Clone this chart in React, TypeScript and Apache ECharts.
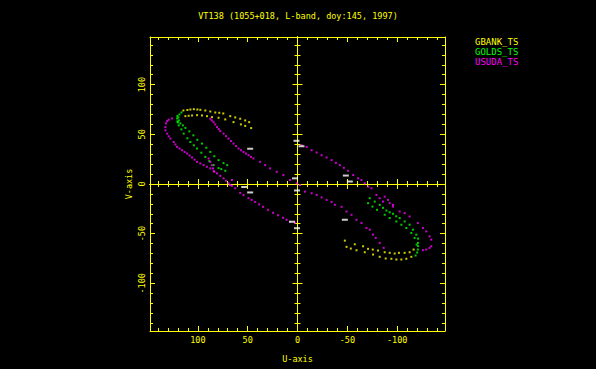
import React, { useEffect, useRef } from "react";
import * as echarts from "echarts";

const TITLE = "VT138 (1055+018, L-band, doy:145, 1997)";
const SERIES_NAMES = ["GBANK_TS", "GOLDS_TS", "USUDA_TS"];
const AXIS_MIN = -148;
const AXIS_MAX = 148;
const MAJOR_TICKS = [-100, -50, 0, 50, 100];
const MINOR_TICKS = [-140, -130, -120, -110, -90, -80, -70, -60, -40, -30, -20, -10, 10, 20, 30, 40, 60, 70, 80, 90, 110, 120, 130, 140];

// GBANK_TS (u, v)
const gbankUpperOuter = [[114.5, 74], [110.5, 74.5], [107.5, 75], [104, 75.3], [100.5, 75], [97.5, 74.7], [92.5, 74], [87.5, 73], [82.5, 72], [78.5, 71.7], [74.5, 71], [67.5, 68.3], [62.5, 67], [57.5, 65.7], [52.5, 64], [48.5, 62.3], [46.5, 56.3]];
const gbankUpperInner = [[112.5, 68.3], [109.2, 68.7], [105.8, 69], [100.8, 69.3], [95.8, 69], [90.8, 68.3], [85.8, 67.3], [79.2, 66.7], [72.5, 65], [64.2, 62.3], [56.8, 60], [52.5, 58.5]];
const gbankLowerOuter = [[-49.2, -63.3], [-53.5, -65], [-59.2, -66.7], [-67.5, -68.7], [-75.8, -71], [-82.5, -73.3], [-88.5, -75], [-94.2, -75.3], [-99.2, -76], [-104.2, -76], [-109.2, -75.3], [-114.2, -73.3]];
const gbankLowerInner = [[-47.5, -57], [-57.5, -60.7], [-65.8, -62.7], [-70.8, -65.3], [-75.5, -66], [-80.8, -67], [-87.5, -68.7], [-92.5, -69.3], [-97.5, -70], [-101.8, -69.3], [-107.5, -69.3], [-112.5, -68.7], [-116.5, -66]];

// GOLDS_TS (u, v)
const goldsUpperA = [[116.5, 72], [118.5, 70], [120.5, 68.5], [119.5, 67], [120.8, 66], [119, 64], [120.5, 63], [117.5, 61], [115, 59], [112.5, 56.5], [108.5, 53], [104.5, 49], [100.5, 44.5], [95.8, 40.7], [91.5, 36.5], [87.5, 32.3], [83.5, 28], [79.2, 24], [74.2, 21], [70.5, 19]];
const goldsUpperB = [[120, 62], [119.2, 59], [116.5, 55], [114.2, 50.7], [110.5, 46], [107.5, 42.3], [104, 39], [100.8, 35.7], [96.5, 31.5], [92.5, 27.3], [88.5, 23], [84.2, 19], [79.2, 16], [76.5, 15], [72.5, 13.3]];
const goldsLowerA = [[-72.5, -14.3], [-77.5, -17.7], [-82.5, -21], [-85.8, -24], [-89.2, -26.7], [-92.5, -28.5], [-95.8, -30], [-99, -32.5], [-102.5, -34.3], [-107.5, -37.7], [-112.5, -41], [-115.8, -46], [-119.2, -51], [-121, -55], [-120.8, -59.3], [-121, -62.5], [-120.8, -66], [-120, -69], [-118.5, -72]];
const goldsLowerB = [[-70.8, -19.3], [-75.2, -22.7], [-79.8, -26], [-87.5, -31], [-92.5, -34.3], [-99.2, -37.7], [-104.2, -41], [-109.2, -44.3], [-114.2, -49.3], [-117.5, -54.3], [-119.5, -61]];

// USUDA_TS (u, v)
const usudaHookUpper = [[125.8, 66], [129.2, 64.7], [130.8, 63.3], [132, 61], [132.5, 57.3], [132.5, 54], [130.8, 50.7], [129.2, 48], [127.5, 45.7], [124.2, 42.3], [122.5, 39.8], [120.8, 37.3], [118.3, 35.7], [115.8, 34], [113.3, 32.3], [110.8, 30.7], [108.3, 28.7], [105.8, 26.7], [103.3, 24.5], [100.8, 22.3], [97.5, 20.7], [94.2, 19], [91, 17.3], [87.5, 15.7], [84, 13], [80.8, 10.7], [77.5, 8.2], [74.2, 5.7], [71.7, 3.2], [69.2, 0.7], [65.8, -1.8], [62.5, -4.3], [57.5, -9], [54.2, -11], [49.2, -14.3], [46, -16], [42.5, -18], [38.5, -20.5], [34.5, -23], [29.5, -26], [24.5, -29], [19.5, -31.5], [14.5, -34], [11, -36], [7.5, -38], [2.5, -39]];
const usudaInnerUpper = [[87.5, 65.7], [86, 64], [84.2, 62.3], [82.5, 60], [80.8, 57.3], [79, 55.3], [77.5, 53.3], [74.2, 50.7], [71.7, 48.2], [69.2, 45.7], [66.7, 43.2], [64.2, 40.7], [61.7, 38.2], [59.2, 35.7], [56.7, 34], [54.2, 32.3], [51.7, 30.7], [49.2, 29], [46.7, 27.3], [44.2, 25.7], [37.5, 22.3], [32.5, 19], [27.5, 15.7], [20.8, 12.3], [14.2, 9], [7.5, 4], [0.8, 0.7]];
const usudaShortUpper = [[89.2, 25.7], [87.5, 22.3], [85.8, 19], [84.8, 15.7], [83.5, 12.3], [65.8, 4], [67.5, -1]];
const usudaInnerLower = [[-2.5, -1], [-7.5, -7.7], [-14.2, -9.3], [-19.2, -11], [-24.2, -13.5], [-29.2, -16], [-34.2, -18], [-37.5, -21], [-44.2, -23], [-49.2, -27.7], [-54.2, -31], [-59.2, -36], [-64.2, -39.3], [-69.2, -44.3], [-72.5, -46], [-75.8, -51], [-78.5, -54.3], [-82.5, -59.3], [-86.5, -64.3]];
const usudaHookLower = [[-4.2, 39], [-9.2, 37.3], [-14.2, 34], [-19.2, 31.7], [-24.2, 29], [-29.2, 26.7], [-34.2, 24], [-38.5, 21.3], [-42.5, 19], [-46.5, 16.3], [-50.8, 13.3], [-55.8, 9], [-60.8, 5.7], [-64.2, 4], [-67.5, 0.7], [-70.8, -2.7], [-74.2, -4.3], [-79.2, -11], [-82.5, -14.3], [-85.8, -17.7], [-92.5, -19.3], [-95.8, -22.7], [-102.5, -27.7], [-107.5, -29.3], [-112.5, -32.7], [-120.8, -39.3], [-125.8, -44.3], [-129.2, -47.7], [-132.5, -52.7], [-134.2, -56], [-134.2, -62.7], [-132.5, -64.3], [-129.2, -66], [-125.8, -66.7]];
const usudaShortLower = [[-87.5, -12.7], [-90.8, -16], [-95.8, -21]];

// unlabelled white marks (u, v)
const whiteMarks = [[47.5, 35.5], [1, 43.5], [-4, 38], [2.5, 5.7], [0.5, -6.5], [53.5, -3], [47.5, -8.5], [5.5, -38], [0.5, -44.5], [-48.5, 8.5], [-52.5, 2.5], [-47.5, -36]];

const YELLOW = "#ffff00";
const GREEN = "#00ff00";
const MAGENTA = "#ff00ff";
const MONO = "DejaVu Sans Mono";

function axis(kind: "x" | "y", position: string, opts: any) {
  const lineStyle = { color: YELLOW, width: 1 };
  return {
    type: "value",
    min: AXIS_MIN,
    max: AXIS_MAX,
    inverse: kind === "x",
    position,
    splitLine: { show: false },
    axisLine: {
      show: opts.line !== false,
      onZero: !!opts.zero,
      onZeroAxisIndex: 0,
      lineStyle,
    },
    axisTick: {
      show: true,
      inside: opts.inside !== false,
      length: opts.len,
      customValues: opts.ticks,
      lineStyle,
    },
    axisLabel: opts.label
      ? {
          show: true,
          customValues: MAJOR_TICKS,
          color: YELLOW,
          fontFamily: MONO,
          fontSize: 8.5,
          margin: kind === "x" ? 4.5 : 4,
          rotate: kind === "y" ? 90 : 0,
        }
      : { show: false },
    ...(opts.name
      ? {
          name: opts.name,
          nameLocation: "middle",
          nameGap: opts.nameGap,
          nameRotate: kind === "y" ? 90 : 0,
          nameTextStyle: { color: YELLOW, fontFamily: MONO, fontSize: 8.5 },
        }
      : {}),
  };
}

export default function App() {
  const ref = useRef<HTMLDivElement>(null);
  useEffect(() => {
    const chart = echarts.init(ref.current!, null, { renderer: "svg" });
    const xAxes = [
      axis("x", "bottom", { len: 5, ticks: MAJOR_TICKS, label: true, name: "U-axis", nameGap: 23 }),
      axis("x", "bottom", { len: 3, ticks: MINOR_TICKS, line: false }),
      axis("x", "top", { len: 5, ticks: MAJOR_TICKS }),
      axis("x", "top", { len: 3, ticks: MINOR_TICKS, line: false }),
      axis("x", "bottom", { len: 5, ticks: MAJOR_TICKS, zero: true }),
      axis("x", "bottom", { len: 5, ticks: MAJOR_TICKS, zero: true, inside: false }),
      axis("x", "bottom", { len: 3, ticks: MINOR_TICKS, zero: true }),
      axis("x", "bottom", { len: 3, ticks: MINOR_TICKS, zero: true, inside: false }),
    ];
    const yAxes = [
      axis("y", "left", { len: 5, ticks: MAJOR_TICKS, label: true, name: "V-axis", nameGap: 17 }),
      axis("y", "left", { len: 3, ticks: MINOR_TICKS, line: false }),
      axis("y", "right", { len: 5, ticks: MAJOR_TICKS }),
      axis("y", "right", { len: 3, ticks: MINOR_TICKS, line: false }),
      axis("y", "left", { len: 5, ticks: MAJOR_TICKS, zero: true }),
      axis("y", "left", { len: 5, ticks: MAJOR_TICKS, zero: true, inside: false }),
      axis("y", "left", { len: 3, ticks: MINOR_TICKS, zero: true }),
      axis("y", "left", { len: 3, ticks: MINOR_TICKS, zero: true, inside: false }),
    ];
    const scatter = (name: string, data: number[][], color: string, size: any) => ({
      name,
      type: "scatter",
      xAxisIndex: 0,
      yAxisIndex: 0,
      symbol: "rect",
      symbolSize: size,
      itemStyle: { color },
      data,
    });
    chart.setOption({
      animation: false,
      backgroundColor: "#000000",
      title: {
        text: TITLE,
        left: "center",
        top: 11,
        padding: 0,
        textStyle: { color: YELLOW, fontFamily: MONO, fontSize: 8.5, fontWeight: "normal" },
      },
      legend: {
        orient: "vertical",
        left: 470,
        top: 37,
        padding: 0,
        itemGap: 0,
        itemWidth: 0,
        itemHeight: 10,
        icon: "rect",
        selectedMode: false,
        textStyle: { fontFamily: MONO, fontSize: 9 },
        data: [
          { name: SERIES_NAMES[0], textStyle: { color: YELLOW } },
          { name: SERIES_NAMES[1], textStyle: { color: GREEN } },
          { name: SERIES_NAMES[2], textStyle: { color: MAGENTA } },
        ],
      },
      grid: { left: 150, right: 151, top: 37, bottom: 38, containLabel: false },
      xAxis: xAxes,
      yAxis: yAxes,
      series: [
        scatter(SERIES_NAMES[0], [...gbankUpperOuter, ...gbankUpperInner, ...gbankLowerOuter, ...gbankLowerInner], YELLOW, 2),
        scatter(SERIES_NAMES[1], [...goldsUpperA, ...goldsUpperB, ...goldsLowerA, ...goldsLowerB], GREEN, 2),
        scatter(SERIES_NAMES[2], [...usudaHookUpper, ...usudaInnerUpper, ...usudaShortUpper, ...usudaInnerLower, ...usudaHookLower, ...usudaShortLower], MAGENTA, 2),
        scatter("marks", whiteMarks, "#ffffff", [6, 2]),
      ],
    });
    return () => chart.dispose();
  }, []);
  return (
    <div
      ref={ref}
      style={{ position: "fixed", left: 0, top: 0, width: 596, height: 369, background: "#000" }}
    />
  );
}
